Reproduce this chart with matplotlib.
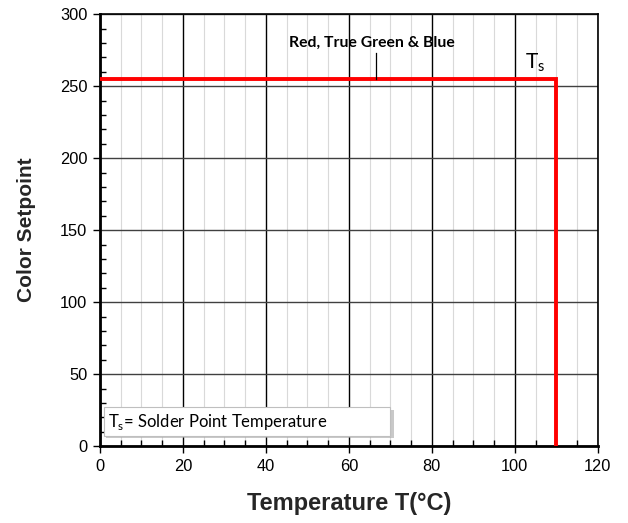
import matplotlib
matplotlib.use("Agg")
import matplotlib.pyplot as plt
from matplotlib.ticker import MultipleLocator
from matplotlib.patches import Rectangle

# Data
temp = [0, 110, 110]
setpoint = [255, 255, 0]
series_label = "Red, True Green & Blue"
xlim = (0, 120)
ylim = (0, 300)

fig = plt.figure(figsize=(6.28, 5.23), dpi=100)
ax = fig.add_axes([0.159, 0.147, 0.793, 0.826])

ax.set_xlim(*xlim)
ax.set_ylim(*ylim)
ax.xaxis.set_major_locator(MultipleLocator(20))
ax.xaxis.set_minor_locator(MultipleLocator(5))
ax.yaxis.set_major_locator(MultipleLocator(50))
ax.yaxis.set_minor_locator(MultipleLocator(10))

# grid
ax.grid(which='minor', axis='x', color='#d9d9d9', linewidth=0.8)
ax.grid(which='major', axis='x', color='black', linewidth=1.0)
ax.grid(which='major', axis='y', color='#404040', linewidth=1.0)
ax.set_axisbelow(True)

for s in ax.spines.values():
    s.set_linewidth(1.2)
    s.set_color('black')
ax.spines['left'].set_linewidth(2)
ax.spines['bottom'].set_linewidth(2)

ax.tick_params(which='major', direction='out', length=5, width=1, labelsize=11.8,
               colors='black', pad=4)
ax.tick_params(which='minor', direction='in', length=4, width=1)
for lab in ax.get_xticklabels() + ax.get_yticklabels():
    lab.set_family('Liberation Sans')

ax.plot(temp, setpoint, color='#ff0000', linewidth=2.8, solid_joinstyle='miter', zorder=3)

# annotation
ax.text(65.5, 280, series_label, ha='center', va='center', fontsize=11.3,
        fontweight='bold', family='Lato')
ax.plot([66.5, 66.5], [255, 273], color='black', linewidth=0.9, zorder=3)

ax.text(105, 266, r'T$_\mathregular{s}$', ha='center', va='center', fontsize=15,
        family='Lato')

# legend-like note with shadow
ax.add_patch(Rectangle((1.6, 5.8), 69.3, 19.5, facecolor='#a6a6a6', edgecolor='none',
                       zorder=4, alpha=0.6))
ax.add_patch(Rectangle((1.0, 7.2), 69.0, 19.8, facecolor='white', edgecolor='#bfbfbf',
                       linewidth=0.8, zorder=5))
ax.text(2.0, 16.8, r'T$_\mathregular{s}$= Solder Point Temperature', ha='left', va='center',
        fontsize=12, family='Lato', zorder=6)

ax.set_xlabel('Temperature T(°C)', fontsize=17, fontweight='bold', family='Liberation Sans',
              color='#262626', va='center')
ax.set_ylabel('Color Setpoint', fontsize=15, fontweight='bold', family='Liberation Sans',
              color='#262626', va='center', ha='center')
ax.xaxis.set_label_coords(0.5, -0.132)
ax.yaxis.set_label_coords(-0.148, 0.5)

fig.savefig('out.png', dpi=100)
